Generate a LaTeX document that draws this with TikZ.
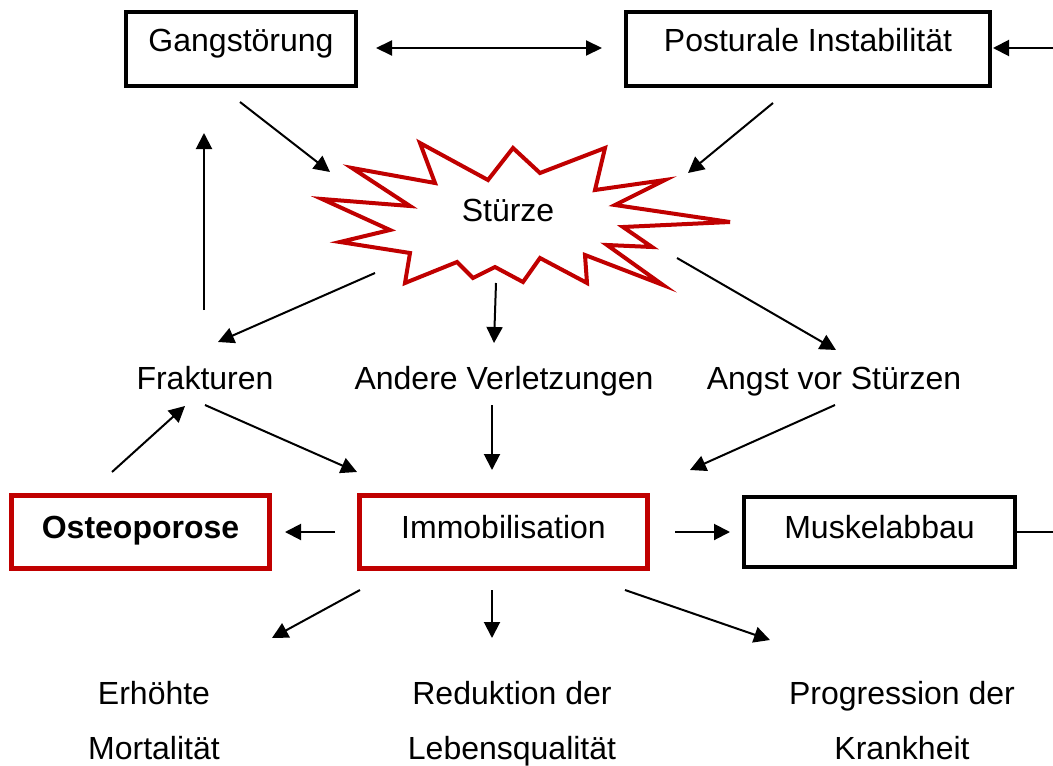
\documentclass[tikz,border=0pt]{standalone}
\usepackage{fontspec}
\setmainfont{Liberation Sans}
\usetikzlibrary{arrows.meta,calc}
\definecolor{dred}{HTML}{C00000}
\begin{document}
\begin{tikzpicture}[x=1pt,y=-1pt,
  every node/.style={font=\fontsize{32}{38}\selectfont},
  blackbox/.style={draw=black,line width=3.5pt,inner sep=0pt},
  redbox/.style={draw=dred,line width=5pt,inner sep=0pt},
  topbox/.style={text height=23pt,text depth=19pt},
  lowbox/.style={text height=23pt,text depth=11pt},
  lbl/.style={inner sep=0pt,anchor=base},
  arr/.style={line width=2pt,-{Triangle[length=16pt,width=16pt]}},
  darr/.style={line width=2pt,{Triangle[length=16pt,width=15pt]}-{Triangle[length=16pt,width=15pt]}},
  ln/.style={line width=2pt}]
\useasboundingbox (0,0) rectangle (1053,766);
% boxes
\node[blackbox,topbox,minimum width=230pt,minimum height=74pt] (gang) at (241,49) {Gangstörung};
\node[blackbox,topbox,minimum width=364pt,minimum height=74pt] (post) at (808,49) {Posturale Instabilität};
\node[redbox,lowbox,minimum width=258pt,minimum height=73pt] (osteo) at (140.5,532) {\bfseries Osteoporose};
\node[redbox,lowbox,minimum width=288pt,minimum height=73pt] (immo) at (503.5,532) {Immobilisation};
\node[blackbox,lowbox,minimum width=271pt,minimum height=70pt] (musk) at (879.5,532) {Muskelabbau};
% star
\draw[dred,line width=4pt,line join=miter,fill=white]
 (322,199) -- (410,206) -- (352,168) -- (435,183) -- (420,143) -- (488,180)
 -- (513,148) -- (540,173) -- (605,148) -- (595,190) -- (665,180) -- (615,205)
 -- (730,222) -- (623,227) -- (652,247) -- (607,245) -- (663,285) -- (585,255)
 -- (587,283) -- (540,258) -- (523,282) -- (495,267) -- (473,278) -- (457,262)
 -- (405,283) -- (410,253) -- (340,242) -- (390,230) -- cycle;
\node[lbl] (sturz) at (508,221) {Stürze};
% labels
\node[lbl] (frak) at (205,389) {Frakturen};
\node[lbl] (andere) at (504,389) {Andere Verletzungen};
\node[lbl] (angst) at (834,389) {Angst vor Stürzen};
\node[lbl] (erh1) at (154,704) {Erhöhte};
\node[lbl] (erh2) at (154,759) {Mortalität};
\node[lbl] (red1) at (512,704) {Reduktion der};
\node[lbl] (red2) at (512,759) {Lebensqualität};
\node[lbl] (prog1) at (902,704) {Progression der};
\node[lbl] (prog2) at (902,759) {Krankheit};
% coordinates
\coordinate (a1s) at (376,48); \coordinate (a1e) at (602,48);
\coordinate (rin) at (1053,48); \coordinate (rine) at (993,48);
\coordinate (g1) at (240,102); \coordinate (g2) at (330,172);
\coordinate (p1) at (773,103); \coordinate (p2) at (688,173);
\coordinate (s1) at (375,273); \coordinate (s2) at (218,342);
\coordinate (s3) at (496,283); \coordinate (s4) at (494,343);
\coordinate (s5) at (677,258); \coordinate (s6) at (836,350);
\coordinate (f1) at (204,310); \coordinate (f2) at (204,133);
\coordinate (f3) at (205,405); \coordinate (f4) at (357,472);
\coordinate (v1) at (492,405); \coordinate (v2) at (492,470);
\coordinate (an1) at (835,405); \coordinate (an2) at (690,470);
\coordinate (o1) at (112,472); \coordinate (o2) at (185,406);
\coordinate (i1) at (335,532); \coordinate (i2) at (285,532);
\coordinate (i3) at (675,532); \coordinate (i4) at (730,532);
\coordinate (m1) at (1053,532);
\coordinate (d1) at (360,590); \coordinate (d2) at (272,638);
\coordinate (d3) at (492,590); \coordinate (d4) at (492,638);
\coordinate (d5) at (625,590); \coordinate (d6) at (770,640);
% connectors
\draw[darr] (a1s) -- (a1e);
\draw[arr] (rin) -- (rine);
\draw[arr] (g1) -- (g2);
\draw[arr] (p1) -- (p2);
\draw[arr] (s1) -- (s2);
\draw[arr] (s3) -- (s4);
\draw[arr] (s5) -- (s6);
\draw[arr] (f1) -- (f2);
\draw[arr] (f3) -- (f4);
\draw[arr] (v1) -- (v2);
\draw[arr] (an1) -- (an2);
\draw[arr] (o1) -- (o2);
\draw[arr] (i1) -- (i2);
\draw[arr] (i3) -- (i4);
\draw[ln] (musk.east) -- (m1);
\draw[arr] (d1) -- (d2);
\draw[arr] (d3) -- (d4);
\draw[arr] (d5) -- (d6);
\end{tikzpicture}
\end{document}
